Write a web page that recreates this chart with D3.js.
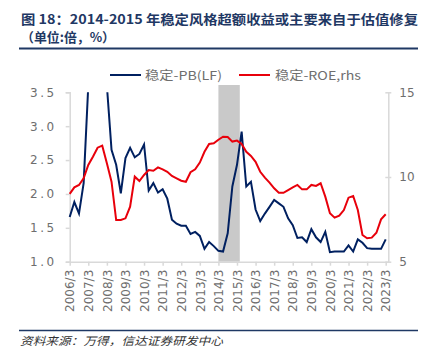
<!DOCTYPE html>
<html lang="zh">
<head>
<meta charset="UTF-8">
<title>稳定风格</title>
<style>
  body { margin: 0; background: #fff; }
  svg { display: block; }
</style>
</head>
<body>
<div id="chart" style="width:428px;height:364px;"></div>
<script src="https://cdn.jsdelivr.net/npm/d3@7/dist/d3.min.js"></script>
<script>
// quarterly, 2006/3 .. 2023/3
var startYear = 2006;
var pbValues = [1.66, 1.88, 1.71, 2.16, 3.6, 4.5, 5.0, 4.8, 3.6, 2.65, 2.43, 2.01,
    2.53, 2.68, 2.54, 2.59, 2.73, 2.05, 2.16, 2.02, 2.07, 1.93, 1.62, 1.56,
    1.53, 1.53, 1.41, 1.44, 1.38, 1.19, 1.29, 1.23, 1.16, 1.15, 1.42, 2.11,
    2.43, 2.92, 2.11, 2.18, 1.77, 1.60, 1.71, 1.81, 1.91, 1.86, 1.81, 1.64,
    1.54, 1.35, 1.36, 1.29, 1.48, 1.36, 1.29, 1.44, 1.14, 1.15, 1.15, 1.15,
    1.24, 1.15, 1.33, 1.28, 1.20, 1.19, 1.19, 1.19, 1.33];
var roeValues = [9.0, 9.39, 9.53, 9.92, 10.71, 11.2, 11.73, 11.85, 10.81, 9.72, 7.46, 7.46,
    7.56, 8.25, 10.02, 9.76, 10.12, 10.41, 10.37, 10.57, 10.45, 10.31, 10.06, 9.92,
    9.78, 9.72, 10.28, 10.45, 10.85, 11.49, 11.95, 11.99, 12.2, 12.38, 12.36, 12.09,
    12.15, 11.95, 11.49, 11.24, 10.9, 10.31, 9.96, 9.67, 9.33, 9.07, 9.07, 9.23,
    9.39, 9.53, 9.27, 9.27, 9.53, 9.47, 9.63, 8.84, 7.86, 7.6, 7.72, 8.05,
    8.78, 8.88, 8.05, 6.58, 6.38, 6.42, 6.71, 7.5, 7.8];
var leftTicks = [1.0, 1.5, 2.0, 2.5, 3.0, 3.5];
var rightTicks = [5, 10, 15];
var shadeRange = [32, 36.6];   // 2014/3 - 2015 mid
var seriesNames = ["稳定-PB(LF)", "稳定-ROE,rhs"];
var titleLines = ["图 18：2014-2015 年稳定风格超额收益或主要来自于估值修复", "（单位:倍，%）"];
var sourceText = "资料来源：万得，信达证券研发中心";

var width = 428, height = 364;
var navy = "#1f3864", grey = "#6e6e6e", axisGrey = "#d9d9d9";

var svg = d3.select("#chart").append("svg")
    .attr("width", width)
    .attr("height", height);

// title
svg.append("text")
    .attr("x", 21).attr("y", 24)
    .attr("textLength", 397).attr("lengthAdjust", "spacingAndGlyphs")
    .style("font-family", "'Noto Sans CJK SC', sans-serif")
    .style("font-size", "13px").style("font-weight", "bold")
    .style("fill", navy)
    .text(titleLines[0]);
svg.append("text")
    .attr("x", 21).attr("y", 42)
    .attr("textLength", 94).attr("lengthAdjust", "spacingAndGlyphs")
    .style("font-family", "'Noto Sans CJK SC', sans-serif")
    .style("font-size", "13px").style("font-weight", "bold")
    .style("fill", navy)
    .text(titleLines[1]);
svg.append("line")
    .attr("x1", 19).attr("x2", 418).attr("y1", 48.5).attr("y2", 48.5)
    .style("stroke", navy).style("stroke-width", 2);

// scales
var x = d3.scaleLinear().domain([0, pbValues.length - 1]).range([69.7, 385.7]);
var yL = d3.scaleLinear().domain([1, 3.5]).range([261.7, 92.3]);
var yR = d3.scaleLinear().domain([5, 15]).range([261.7, 92.3]);
var rightX = 388.3;

// shaded period
svg.append("rect")
    .attr("x", x(shadeRange[0]))
    .attr("width", x(shadeRange[1]) - x(shadeRange[0]))
    .attr("y", 85)
    .attr("height", yL(1) - 85)
    .style("fill", "#c9c9c9");

// axes
var gLeft = svg.append("g").attr("transform", "translate(" + x(0) + ",0)")
    .call(d3.axisLeft(yL).tickValues(leftTicks).tickSize(4).tickFormat(d3.format(".1f")));
var gRight = svg.append("g").attr("transform", "translate(" + rightX + ",0)")
    .call(d3.axisRight(yR).tickValues(rightTicks).tickSize(0).tickPadding(11));
gRight.selectAll(".tick line").attr("x1", -3).attr("x2", 3);

var xTicks = d3.range(0, pbValues.length, 4);
var gX = svg.append("g").attr("transform", "translate(0," + yL(1) + ")")
    .call(d3.axisBottom(x).tickValues(xTicks).tickSize(4)
        .tickFormat(function (d) { return (startYear + d / 4) + "/3"; }));
gX.select(".domain").attr("d", "M" + x(0) + ",0.5H" + rightX);
gX.selectAll(".tick text")
    .attr("transform", "rotate(-90)")
    .attr("x", -8).attr("y", 0).attr("dy", "0.35em")
    .style("text-anchor", "end");

[gLeft, gRight, gX].forEach(function (g) {
    g.select(".domain").style("stroke", axisGrey).style("stroke-width", 1.5);
    g.selectAll(".tick line").style("stroke", axisGrey).style("stroke-width", 1.5);
    g.selectAll(".tick text")
        .style("font-family", "'DejaVu Sans', sans-serif")
        .style("font-size", "12px").style("fill", grey);
});
gLeft.selectAll(".tick text").style("letter-spacing", "2.5px").attr("x", -13);

// lines
svg.append("clipPath").attr("id", "plotClip")
    .append("rect").attr("x", 60).attr("y", yL(3.5)).attr("width", 340).attr("height", yL(1) - yL(3.5));

var pbLine = d3.line().x(function (d, i) { return x(i); }).y(function (d) { return yL(d); });
var roeLine = d3.line().x(function (d, i) { return x(i); }).y(function (d) { return yR(d); });

svg.append("path")
    .datum(pbValues)
    .attr("clip-path", "url(#plotClip)")
    .attr("d", pbLine)
    .style("fill", "none").style("stroke", "#002060").style("stroke-width", 2);
svg.append("path")
    .datum(roeValues)
    .attr("d", roeLine)
    .style("fill", "none").style("stroke", "#e8000b").style("stroke-width", 2);

// legend
var legend = [
    { name: seriesNames[0], color: "#002060", x0: 110, tx: 145, tw: 77 },
    { name: seriesNames[1], color: "#e8000b", x0: 239, tx: 275, tw: 86 }
];
legend.forEach(function (d) {
    svg.append("line")
        .attr("x1", d.x0).attr("x2", d.x0 + 31).attr("y1", 75).attr("y2", 75)
        .style("stroke", d.color).style("stroke-width", 2);
    svg.append("text")
        .attr("x", d.tx).attr("y", 79.5)
        .attr("textLength", d.tw).attr("lengthAdjust", "spacingAndGlyphs")
        .style("font-family", "'Noto Sans CJK SC', sans-serif")
        .style("font-size", "12px").style("fill", grey)
        .text(d.name);
});

// source
svg.append("line")
    .attr("x1", 19).attr("x2", 418).attr("y1", 330.5).attr("y2", 330.5)
    .style("stroke", navy).style("stroke-width", 1.5);
svg.append("text")
    .attr("x", 20).attr("y", 345)
    .attr("textLength", 203).attr("lengthAdjust", "spacingAndGlyphs")
    .style("font-family", "'Noto Sans CJK SC', sans-serif")
    .style("font-size", "11px").style("font-style", "italic")
    .style("fill", "#333")
    .text(sourceText);
</script>
</body>
</html>
